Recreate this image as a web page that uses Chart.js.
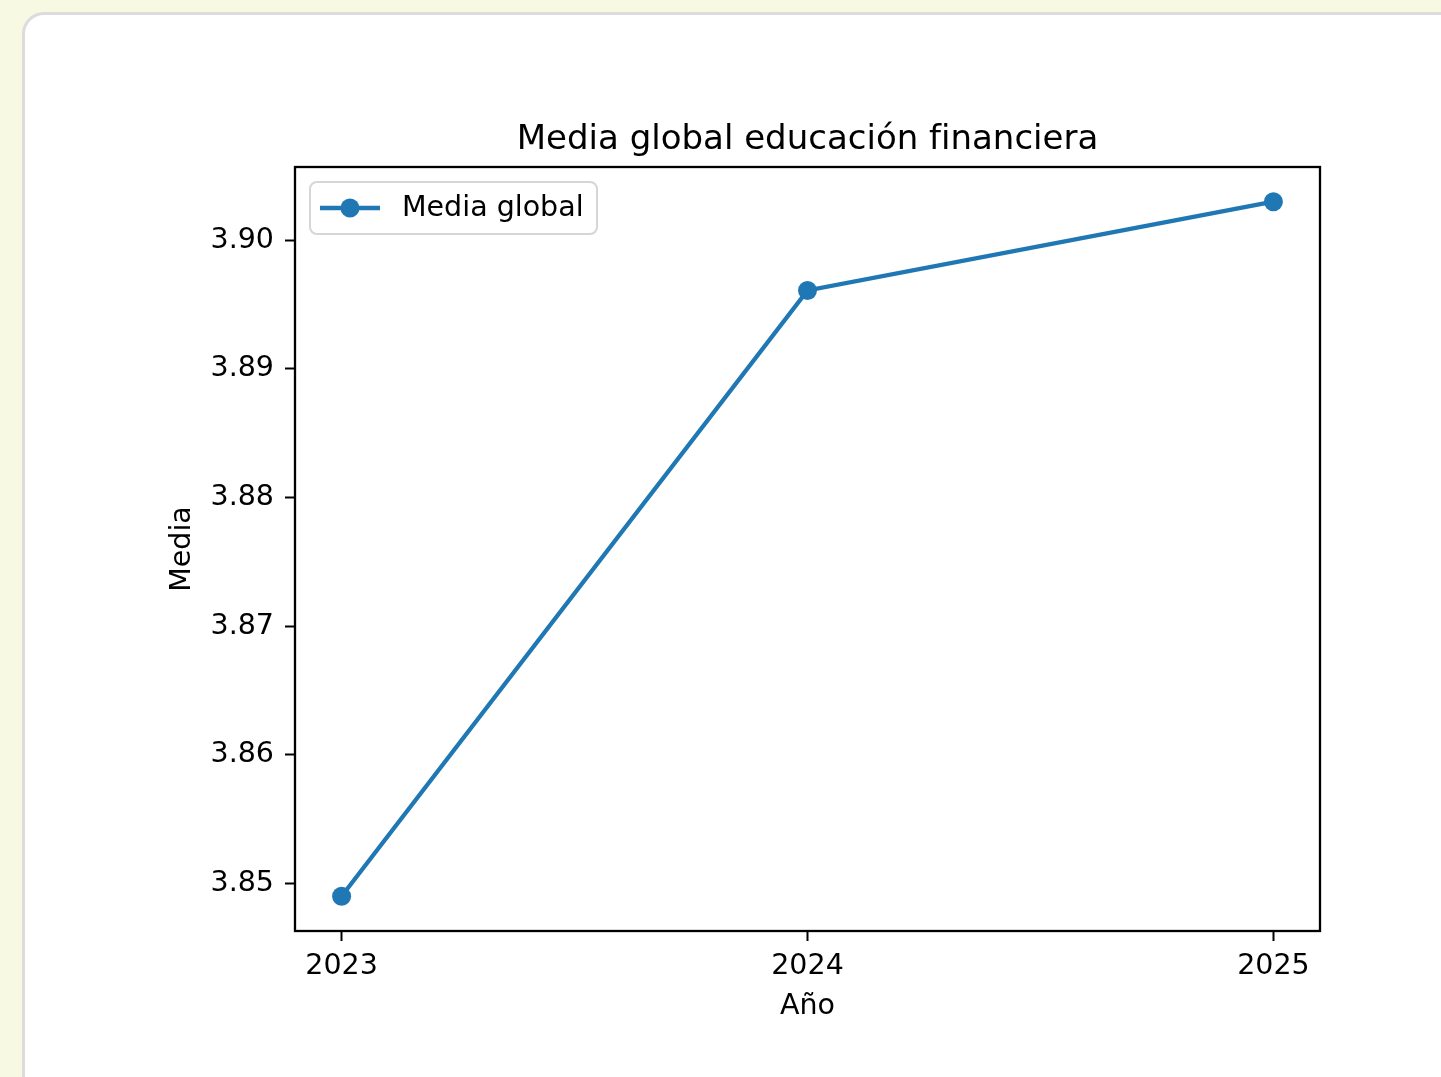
<!DOCTYPE html>
<html lang="es">
<head>
<meta charset="utf-8">
<title>Media global educación financiera</title>
<script src="https://cdn.jsdelivr.net/npm/chart.js@4.4.1/dist/chart.umd.min.js"></script>
<style>
  html, body { margin: 0; padding: 0; }
  body { width: 1441px; height: 1077px; background: #f7f9e3; position: relative; overflow: hidden; }
  .card {
    position: absolute; left: 22px; top: 12px; width: 1480px; height: 1120px;
    background: #ffffff; border: 3px solid #dcdcdc; border-radius: 22px; box-sizing: border-box;
  }
  #chart { position: absolute; left: 0; top: 0; }
</style>
</head>
<body>
<div class="card"></div>
<canvas id="chart" width="1441" height="1077"></canvas>
<script>
// Yearly global mean of the financial-education score
const years = [2023, 2024, 2025];
const meanValues = [3.8490, 3.8961, 3.9030];
const xTickValues = [2023, 2024, 2025];
const yTickValues = [3.85, 3.86, 3.87, 3.88, 3.89, 3.90];

const FONT = "'DejaVu Sans', sans-serif";
const BLUE = '#1f77b4';
const INK = '#000000';

// 5% padding around the data on both axes
const xSpan = years[years.length - 1] - years[0];
const yLo = Math.min(...meanValues), yHi = Math.max(...meanValues);
const ySpan = yHi - yLo;

// Box around the plot area (all four spines)
const framePlugin = {
  id: 'frame',
  afterDatasetsDraw(chart) {
    const { ctx, chartArea: a } = chart;
    ctx.save();
    ctx.strokeStyle = '#000';
    ctx.lineWidth = 2.3;
    ctx.strokeRect(a.left, a.top, a.right - a.left, a.bottom - a.top);
    ctx.restore();
  }
};

// Legend box in the upper-left corner of the plot area
const cornerLegend = {
  id: 'cornerLegend',
  afterDraw(chart) {
    const { ctx, chartArea: a } = chart;
    const ds = chart.data.datasets[0];
    const x = a.left + 15, y = a.top + 15, w = 287, h = 52, r = 7;
    ctx.save();
    ctx.beginPath();
    ctx.roundRect(x, y, w, h, r);
    ctx.fillStyle = 'rgba(255,255,255,0.8)';
    ctx.fill();
    ctx.strokeStyle = '#d6d6d6';
    ctx.lineWidth = 2;
    ctx.stroke();
    const cy = y + h / 2;
    ctx.strokeStyle = ds.borderColor;
    ctx.lineWidth = ds.borderWidth;
    ctx.beginPath();
    ctx.moveTo(x + 10, cy);
    ctx.lineTo(x + 70, cy);
    ctx.stroke();
    ctx.fillStyle = ds.pointBackgroundColor;
    ctx.beginPath();
    ctx.arc(x + 40, cy, ds.pointRadius, 0, Math.PI * 2);
    ctx.fill();
    ctx.fillStyle = INK;
    ctx.font = `28.5px ${FONT}`;
    ctx.textBaseline = 'middle';
    ctx.textAlign = 'left';
    ctx.fillText(ds.label, x + 92, cy + 1);
    ctx.restore();
  }
};

const tickFont = { family: FONT, size: 28.5, lineHeight: 1.2 };

new Chart(document.getElementById('chart'), {
  type: 'line',
  data: {
    datasets: [{
      label: 'Media global',
      data: years.map((yr, i) => ({ x: yr, y: meanValues[i] })),
      borderColor: BLUE,
      backgroundColor: BLUE,
      borderWidth: 4.3,
      pointRadius: 9.5,
      pointHoverRadius: 9.5,
      pointBackgroundColor: BLUE,
      pointBorderWidth: 0,
      tension: 0,
      fill: false,
      clip: false
    }]
  },
  options: {
    responsive: false,
    animation: false,
    events: [],
    layout: { padding: { left: 0, top: 0, right: 121, bottom: 0 } },
    plugins: {
      legend: { display: false },
      tooltip: { enabled: false },
      title: {
        display: true,
        fullSize: false,
        text: 'Media global educación financiera',
        color: INK,
        font: { family: FONT, size: 34, weight: 'normal', lineHeight: 1.2 },
        padding: { top: 119.6, bottom: 6.6 }
      }
    },
    scales: {
      x: {
        type: 'linear',
        min: years[0] - 0.05 * xSpan,
        max: years[years.length - 1] + 0.05 * xSpan,
        afterBuildTicks(scale) { scale.ticks = xTickValues.map(v => ({ value: v })); },
        afterFit(scale) { scale.height = 146; },
        border: { display: false },
        grid: { display: true, drawOnChartArea: false, drawTicks: true, tickLength: 10, tickWidth: 2, tickColor: '#000' },
        ticks: { color: INK, font: tickFont, padding: 8, maxRotation: 0, autoSkip: false, callback: v => String(v) },
        title: { display: true, text: 'Año', color: INK, font: { family: FONT, size: 28.5, lineHeight: 1.2 }, padding: { top: 0, bottom: 53.8 } }
      },
      y: {
        type: 'linear',
        min: yLo - 0.05 * ySpan,
        max: yHi + 0.05 * ySpan,
        afterBuildTicks(scale) { scale.ticks = yTickValues.map(v => ({ value: v })); },
        afterFit(scale) { scale.width = 295; },
        border: { display: false },
        grid: { display: true, drawOnChartArea: false, drawTicks: true, tickLength: 10, tickWidth: 2, tickColor: '#000' },
        ticks: { color: INK, font: tickFont, padding: 11, autoSkip: false, callback: v => Number(v).toFixed(2) },
        title: { display: true, text: 'Media', color: INK, font: { family: FONT, size: 28.5, lineHeight: 1.2 }, padding: { top: 165.8, bottom: 0 } }
      }
    }
  },
  plugins: [framePlugin, cornerLegend]
});
</script>
</body>
</html>
